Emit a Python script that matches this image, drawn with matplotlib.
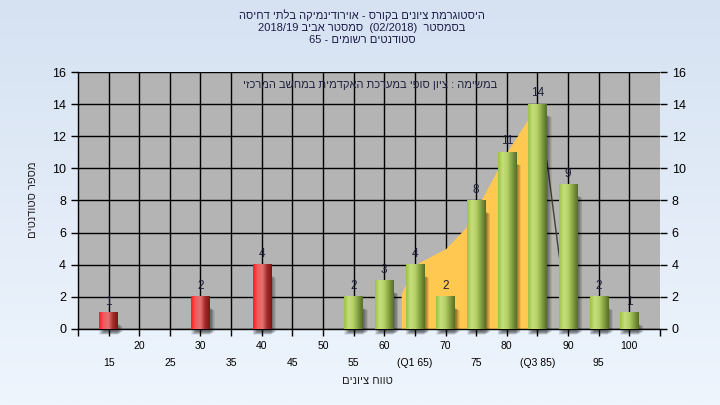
import numpy as np
import matplotlib.pyplot as plt
from matplotlib.colors import LinearSegmentedColormap
from matplotlib.patches import Rectangle

plt.rcParams['font.family'] = ['Liberation Sans', 'DejaVu Sans']

# data
grades = [15, 20, 25, 30, 35, 40, 45, 50, 55, 60, 65, 70, 75, 80, 85, 90, 95, 100]
counts = [1, 0, 0, 2, 0, 4, 0, 0, 2, 3, 4, 2, 8, 11, 14, 9, 2, 1]
tick_labels = ['15', '20', '25', '30', '35', '40', '45', '50', '55', '60',
               '(Q1 65)', '70', '75', '80', '(Q3 85)', '90', '95', '100']
pass_grade = 55
# interquartile shaded curve (x in category index units)
curve_x = [9.55, 10, 11, 11.7, 13, 14]
curve_y = [2.2, 4, 5, 6.4, 11, 14]
tail_x = [14, 14.35, 14.7, 15]
tail_y = [14, 9.9, 4.7, 1.0]

# hebrew text (written in visual order, matplotlib has no bidi)
title = ("היסטוגרמת ציונים בקורס - אוירודינמיקה בלתי דחיסה"[::-1] + "\n"
         + "2018/19 " + "סמסטר אביב"[::-1] + "  (02/2018)  " + "בסמסטר"[::-1] + "\n"
         + "65 - " + "סטודנטים רשומים"[::-1])
note = "במשימה : ציון סופי במערכת האקדמית במחשב המרכזי"[::-1]
ylab = "מספר סטודנטים"[::-1]
xlab = "טווח ציונים"[::-1]

fig = plt.figure(figsize=(7.2, 4.05), dpi=100)

# background gradient
bg = fig.add_axes([0, 0, 1, 1], zorder=-10)
bg.imshow(np.linspace(0, 1, 256).reshape(-1, 1), aspect='auto', extent=[0, 1, 0, 1],
          cmap=LinearSegmentedColormap.from_list('bg', ['#d6e2f2', '#eef5fd']))
bg.axis('off')

ax = fig.add_axes([0.1083, 0.1877, 0.8083, 0.6345])
ax.set_facecolor('#b4b4b4')

x = np.arange(len(grades))
w = 0.6
green = LinearSegmentedColormap.from_list('g', ['#9cc246', '#c6df7c', '#b2d064', '#849e40', '#566e28'])
red = LinearSegmentedColormap.from_list('r', ['#ff1c1c', '#f25c5c', '#e27272', '#a52a2a', '#7c1616'])
grad = np.linspace(0, 1, 64).reshape(1, -1)

# shaded interquartile area + tail line
ax.fill_between(curve_x, 0, curve_y, color='#ffc850', zorder=2, lw=0)
ax.plot(tail_x, tail_y, color='#404040', lw=1, zorder=2)

for xi, c, g in zip(x, counts, grades):
    if c == 0:
        continue
    # soft shadow
    for k in range(9):
        ax.add_patch(Rectangle((xi - w / 2 + 0.02 * k, -0.35 + 0.02 * k), w, c - 0.3 - 0.04 * k,
                               color='black', alpha=0.07, lw=0, zorder=3, clip_on=False))
    ax.imshow(grad, cmap=red if g < pass_grade else green, aspect='auto',
              extent=[xi - w / 2, xi + w / 2, 0, c], zorder=4)
    ax.text(xi, c + 0.3, str(c), ha='center', va='bottom', fontsize=8.5,
            color='#1e1e3c', zorder=5)

ax.set_xlim(-1, len(grades))
ax.set_ylim(0, 16)

ax.set_xticks(x, [('\n' + t) if i % 2 == 0 else t for i, t in enumerate(tick_labels)],
              fontsize=7.5, linespacing=1.9)
ax.set_xticks([-1, len(grades)], minor=True)
ax.tick_params(axis='x', which='both', length=5, width=1, color='black', direction='out')
ax.set_yticks(range(0, 17, 2))
ax.tick_params(axis='y', labelsize=9, length=5, width=1, direction='out',
               right=True, labelright=True)
ax.grid(True, color='black', lw=1, zorder=1)
ax.set_axisbelow(True)
for s in ax.spines.values():
    s.set_linewidth(1)
ax.spines['top'].set_visible(False)
ax.spines['right'].set_visible(False)

ax.text(0.502, 0.95, note, transform=ax.transAxes, ha='center', va='center',
        fontsize=8, color='#202040', zorder=6)

fig.text(0.503, 0.978, title, ha='center', va='top', fontsize=8, color='#1c1c48',
         linespacing=1.25)
fig.text(0.046, 0.506, ylab, rotation=90, ha='center', va='center', fontsize=8, color='#202020')
fig.text(0.511, 0.06, xlab, ha='center', va='center', fontsize=8, color='#202020')

fig.savefig('out.png', dpi=100)
